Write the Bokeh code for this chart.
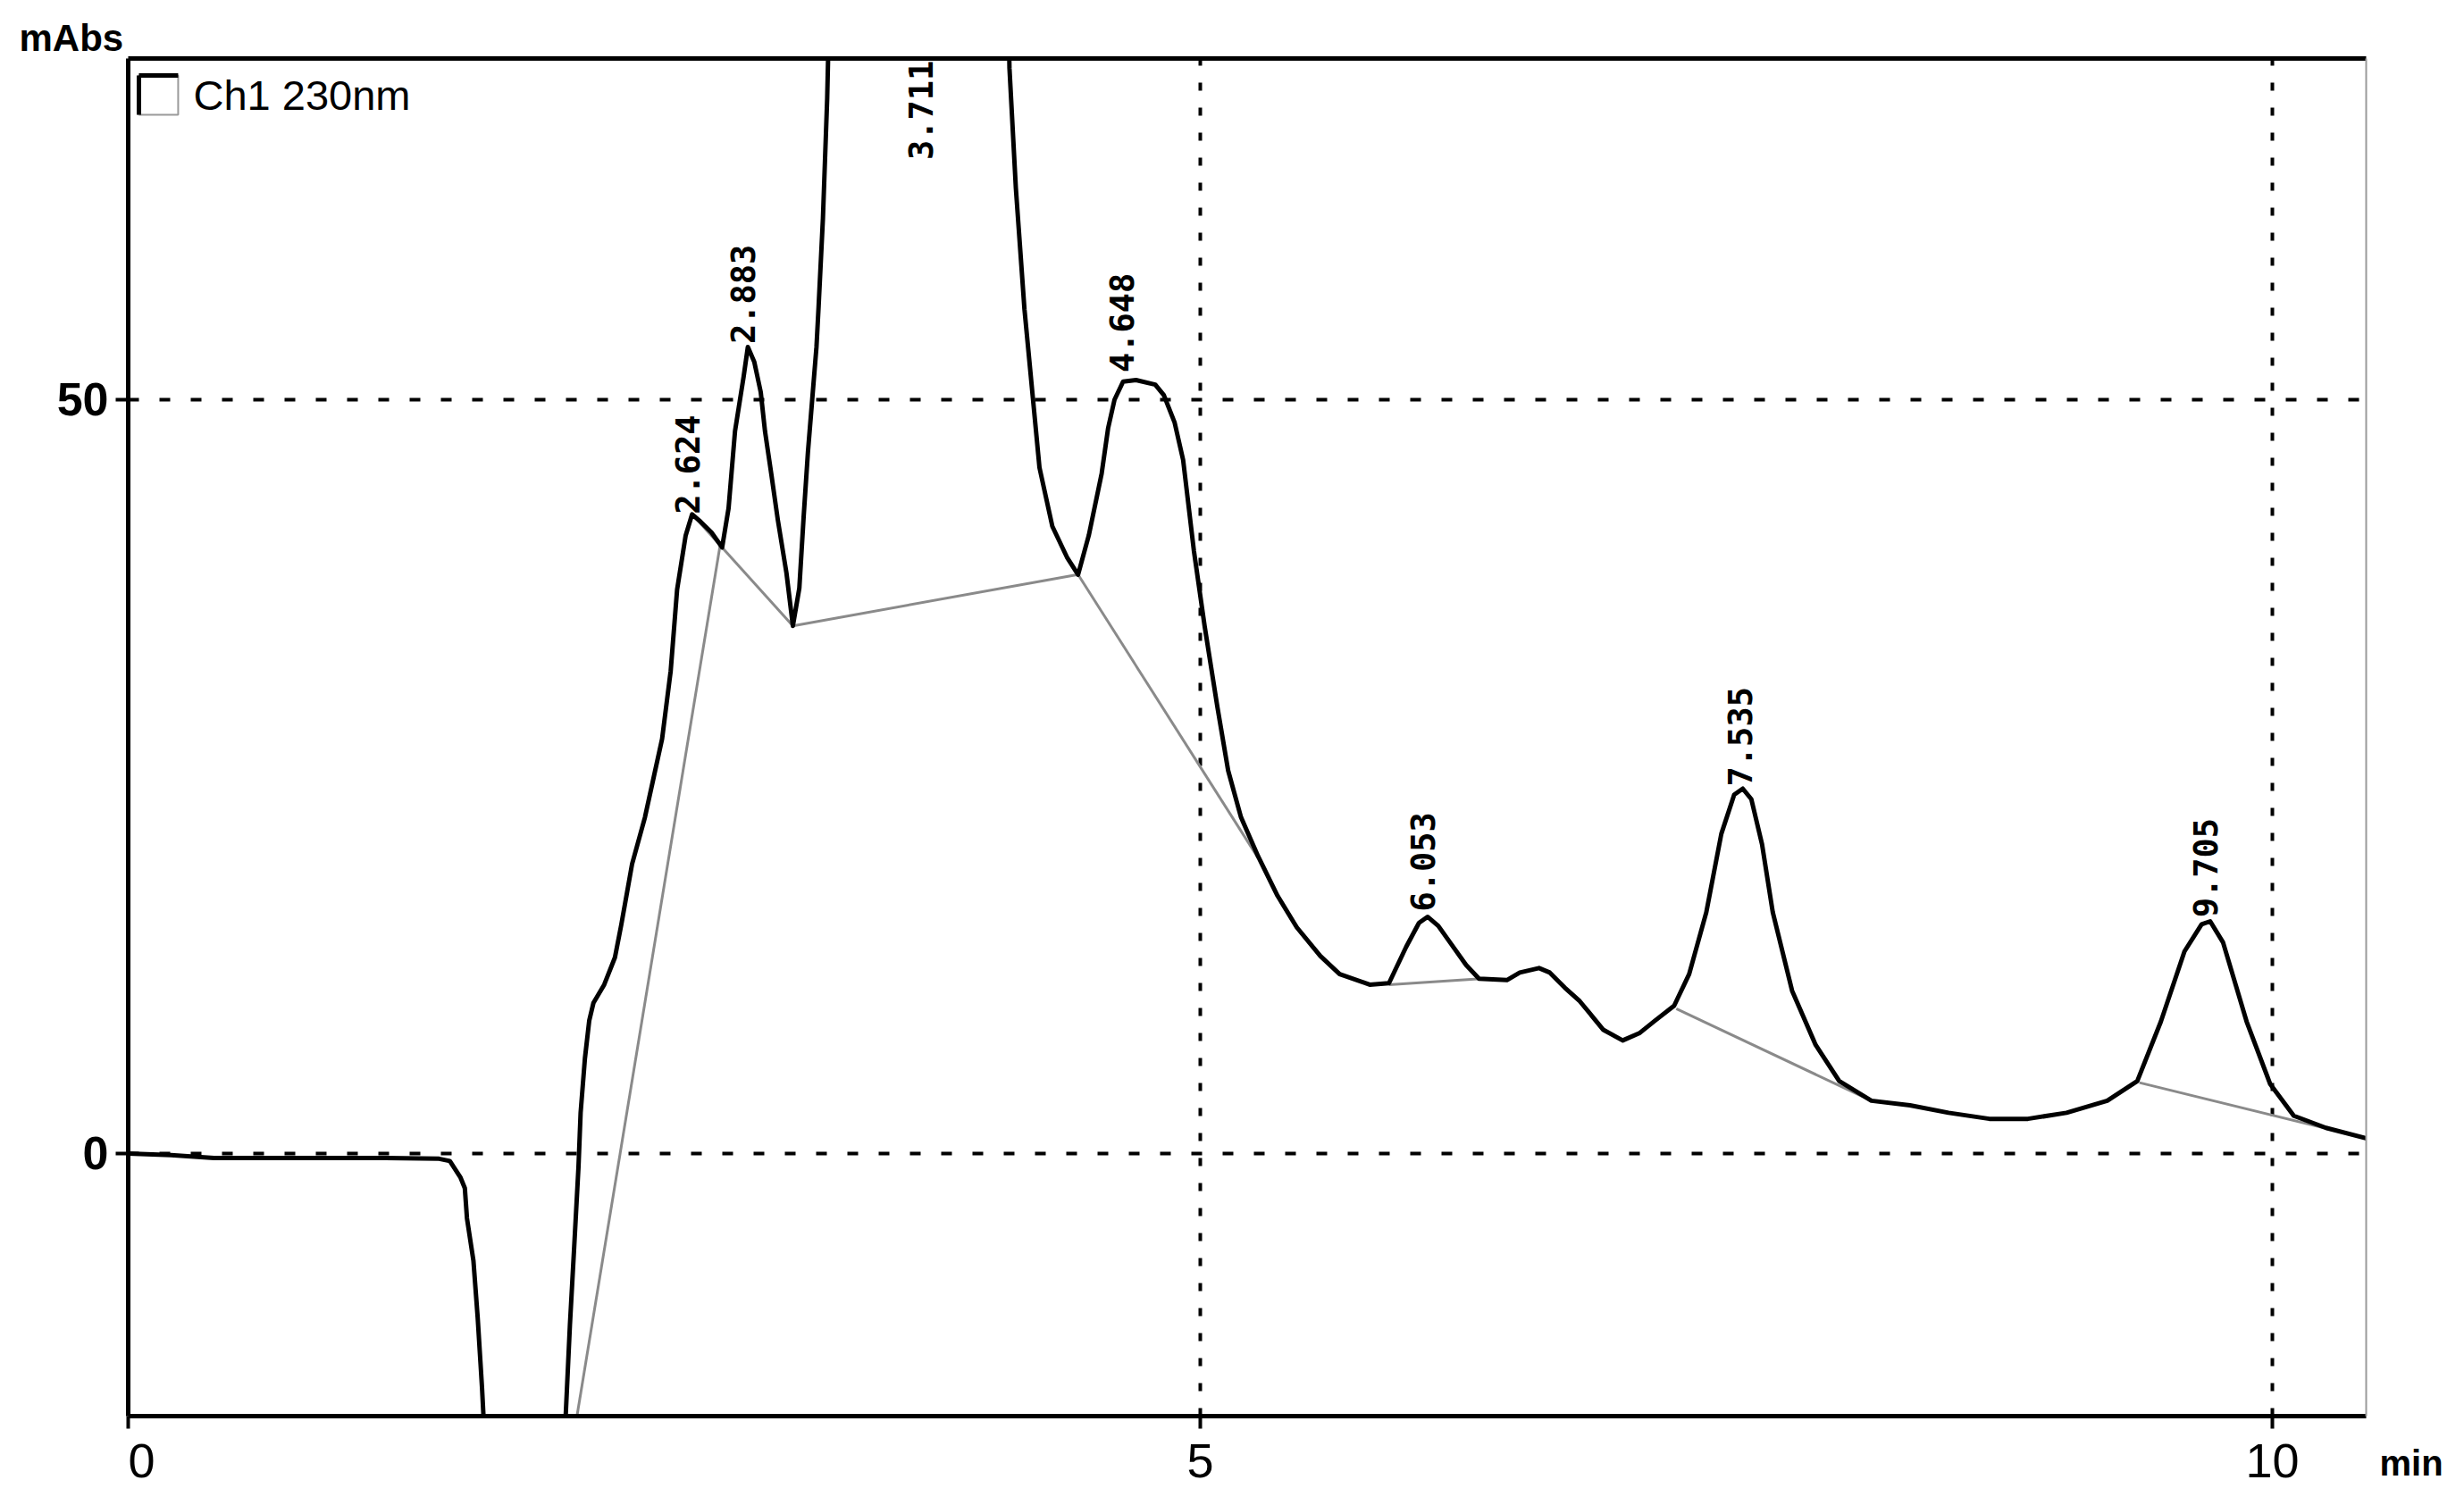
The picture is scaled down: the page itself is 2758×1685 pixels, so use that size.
import numpy as np
from bokeh.plotting import figure
from bokeh.models import Range1d, LinearAxis, FixedTicker, Label, ColumnDataSource
from bokeh.embed import file_html
from bokeh.resources import INLINE
from bokeh.core.properties import value

# ---- chromatogram trace (time in min, signal in mAbs) ----
time_min = [0.00, 0.20, 0.40, 0.80, 1.20, 1.45, 1.50, 1.55, 1.57, 1.58, 1.61, 1.63, 1.65,
            1.67, 1.72, 1.85, 2.00, 2.04, 2.06, 2.08, 2.10, 2.11, 2.13, 2.15, 2.17, 2.22,
            2.27, 2.30, 2.35, 2.41, 2.45, 2.49, 2.53, 2.56, 2.60, 2.63, 2.67, 2.72, 2.77,
            2.80, 2.83, 2.87, 2.89, 2.92, 2.95, 2.97, 3.00, 3.03, 3.07, 3.10, 3.13, 3.15,
            3.17, 3.19, 3.21, 3.22, 3.24, 3.26, 3.30, 3.45, 3.60, 3.71, 3.85, 4.00, 4.09,
            4.11, 4.14, 4.18, 4.22, 4.25, 4.31, 4.38, 4.43, 4.48, 4.54, 4.57, 4.60, 4.64,
            4.70, 4.79, 4.83, 4.88, 4.92, 4.97, 5.02, 5.08, 5.13, 5.19, 5.27, 5.36, 5.45,
            5.56, 5.65, 5.79, 5.88, 5.96, 6.02, 6.06, 6.11, 6.17, 6.24, 6.30, 6.43, 6.49,
            6.58, 6.63, 6.70, 6.77, 6.88, 6.97, 7.05, 7.12, 7.21, 7.28, 7.36, 7.43, 7.49,
            7.53, 7.57, 7.62, 7.67, 7.76, 7.87, 7.98, 8.13, 8.31, 8.49, 8.68, 8.86, 9.04,
            9.23, 9.37, 9.48, 9.59, 9.67, 9.71, 9.77, 9.88, 9.99, 10.10, 10.25, 10.44]
signal_mabs = [0.0, -0.1, -0.3, -0.3, -0.3, -0.35, -0.5, -1.6, -2.3, -4.3, -7.1, -10.9, -15.5,
               -21.0, -27.0, -30.0, -26.0, -17.5, -11.4, -6.2, -0.9, 2.7, 6.3, 8.8, 10.0, 11.2,
               13.0, 15.2, 19.2, 22.3, 24.9, 27.5, 32.0, 37.4, 41.0, 42.4, 41.9, 41.2, 40.2,
               42.8, 47.9, 51.5, 53.5, 52.5, 50.5, 47.9, 45.0, 42.0, 38.5, 35.0, 37.5, 42.2,
               46.5, 50.0, 53.5, 56.2, 62.0, 70.0, 95.0, 200.0, 350.0, 420.0, 300.0, 150.0, 90.0,
               72.0, 64.0, 56.0, 50.0, 45.5, 41.6, 39.5, 38.4, 41.0, 45.1, 48.1, 50.0, 51.2,
               51.3, 51.0, 50.3, 48.5, 46.0, 40.0, 35.0, 29.6, 25.4, 22.3, 19.7, 17.1, 15.0,
               13.1, 11.9, 11.2, 11.3, 13.7, 15.3, 15.7, 15.1, 13.9, 12.5, 11.6, 11.5, 12.0,
               12.3, 12.0, 11.0, 10.1, 8.2, 7.5, 8.0, 8.8, 9.8, 11.9, 16.0, 21.2, 23.8,
               24.2, 23.5, 20.5, 16.0, 10.8, 7.2, 4.8, 3.5, 3.2, 2.7, 2.3, 2.3, 2.7,
               3.5, 4.8, 8.75, 13.4, 15.2, 15.4, 14.0, 8.75, 4.6, 2.5, 1.7, 1.0]

# ---- integration baselines (start/end points) ----
base_t0 = [2.04, 2.63, 3.10, 4.43, 5.88, 7.22, 9.38]
base_y0 = [-22.0, 42.4, 35.0, 38.4, 11.2, 9.6, 4.7]
base_t1 = [2.76, 3.10, 4.43, 5.27, 6.31, 8.13, 10.44]
base_y1 = [40.3, 35.0, 38.4, 19.6, 11.6, 3.5, 1.0]

# ---- peak retention-time labels ----
peak_times = [2.624, 2.883, 3.711, 4.648, 6.053, 7.535, 9.705]
peak_labels = ["2.624", "2.883", "3.711", "4.648", "6.053", "7.535", "9.705"]
peak_label_base = [42.4, 53.7, 65.9, 51.8, 16.05, 24.35, 15.65]

x_ticks = [0, 5, 10]
y_ticks = [0, 50]
y_unit = "mAbs"
x_unit = "min"
channel = "Ch1 230nm"

p = figure(width=2742, height=1669,
           x_range=Range1d(0, 10.4375), y_range=Range1d(-17.42, 72.63),
           output_backend="svg", toolbar_location=None,
           min_border_left=143, min_border_right=94,
           min_border_top=65, min_border_bottom=84,
           background_fill_color="white", border_fill_color="white",
           outline_line_color=None)
p.extra_y_ranges = {"unit": Range1d(0, 1)}

# y unit as left-aligned title
p.title.text = y_unit
p.title.align = "left"
p.title.offset = -122
p.title.standoff = 0
p.title.text_font = "Liberation Sans"
p.title.text_font_size = "42px"
p.title.text_font_style = "bold"
p.title.text_color = "black"

# axes
for ax in (p.xaxis[0], p.yaxis[0]):
    ax.axis_line_color = "black"
    ax.axis_line_width = 5
    ax.major_tick_line_color = "black"
    ax.major_tick_line_width = 4
    ax.major_tick_out = 14
    ax.major_tick_in = 0
    ax.minor_tick_line_color = None
    ax.major_label_text_color = "black"
    ax.major_label_text_font = "Liberation Sans"

p.xaxis.ticker = FixedTicker(ticks=x_ticks)
p.xaxis.major_label_overrides = {0: "\u00a0\u00a00"}
p.xaxis.major_label_text_font_size = "54px"
p.xaxis.major_label_standoff = 5
p.yaxis.ticker = FixedTicker(ticks=y_ticks)
p.yaxis.major_label_text_font_size = "52px"
p.yaxis.major_label_text_font_style = "bold"
p.yaxis.major_label_standoff = 8

top_axis = LinearAxis(ticker=FixedTicker(ticks=[]), axis_line_color="black", axis_line_width=5,
                      major_tick_line_color=None, minor_tick_line_color=None,
                      major_tick_out=0, major_tick_in=0, major_label_standoff=0,
                      major_label_text_font_size="0px")
p.add_layout(top_axis, "above")

# right frame edge; its single label (at the bottom) carries the x unit
right_axis = LinearAxis(y_range_name="unit", ticker=FixedTicker(ticks=[0]),
                        major_label_overrides={0: "\n\n" + x_unit},
                        axis_line_color="#9a9a9a", axis_line_width=2,
                        major_tick_line_color=None, minor_tick_line_color=None,
                        major_tick_out=0, major_tick_in=0, major_label_standoff=15,
                        major_label_text_font="Liberation Sans",
                        major_label_text_font_size="40px",
                        major_label_text_font_style="bold",
                        major_label_text_color="black")
p.add_layout(right_axis, "right")

# grid
p.xgrid.ticker = FixedTicker(ticks=[5, 10])
p.xgrid.grid_line_color = "black"
p.xgrid.grid_line_width = 4
p.xgrid.grid_line_dash = "9 19"
p.ygrid.ticker = FixedTicker(ticks=y_ticks)
p.ygrid.grid_line_color = "black"
p.ygrid.grid_line_width = 4
p.ygrid.grid_line_dash = "12 23"

# baselines
p.segment(x0=base_t0, y0=base_y0, x1=base_t1, y1=base_y1, line_color="#8a8a8a", line_width=3)

# trace
p.line(time_min, signal_mabs, line_color="black", line_width=5, line_join="round")

# peak labels
src = ColumnDataSource(dict(t=peak_times, y=peak_label_base, label=peak_labels))
p.text(x="t", y="y", text="label", source=src, angle=np.pi / 2,
       text_align="left", text_baseline="alphabetic", x_offset=-4,
       text_font=value("DejaVu Sans Mono"), text_font_size="37px",
       text_font_style="bold", text_color="black")

# legend box (channel)
p.quad(left=[0.05], right=[0.233], bottom=[68.9], top=[71.5],
       fill_color=None, line_color="#9a9a9a", line_width=2)
p.segment(x0=[0.05, 0.05], y0=[68.9, 71.5], x1=[0.05, 0.233], y1=[71.5, 71.5],
          line_color="black", line_width=5)
p.add_layout(Label(x=0.304, y=70.2, text=channel, text_font="Liberation Sans",
                   text_font_size="47px", text_color="black",
                   text_align="left", text_baseline="alphabetic"))

open("out.html", "w").write(file_html(p, INLINE))
